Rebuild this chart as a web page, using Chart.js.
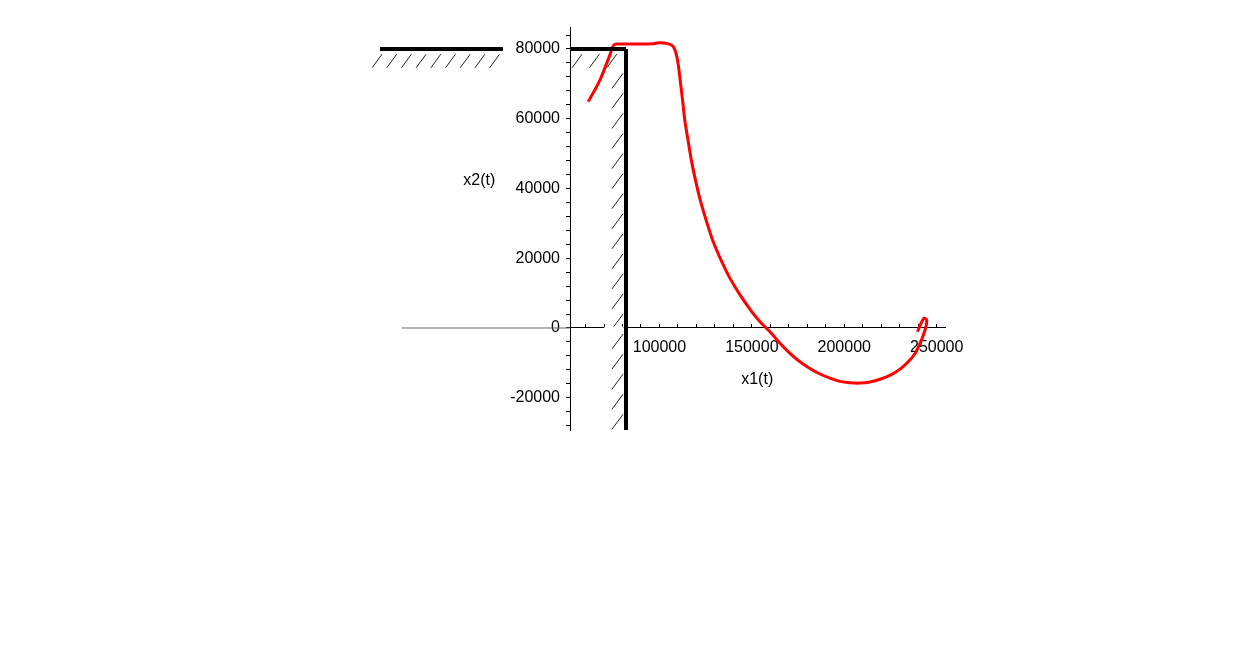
<!DOCTYPE html>
<html>
<head>
<meta charset="utf-8">
<script src="https://cdn.jsdelivr.net/npm/chart.js@4/dist/chart.umd.min.js"></script>
<style>
  html, body { margin: 0; padding: 0; background: #fff; }
  #wrap { width: 1246px; height: 661px; }
</style>
</head>
<body>
<div id="wrap"><canvas id="plot"></canvas></div>
<script>
// trajectoire x2(t) en fonction de x1(t)
const curveX = [61500, 67800, 73200, 75000, 76800, 86700, 96600, 99500, 103900, 107500, 109600, 111100,
  112600, 113800, 115600, 117400, 119700, 122300, 125500, 129100, 133700, 138100, 143600, 149900,
  154400, 159800, 165200, 170600, 176000, 181400, 186900, 192300, 197700, 203100, 208500, 213900,
  219300, 224700, 230200, 234600, 238300, 241000, 242800, 244200, 244600, 243200, 242000, 240700, 239600];
const curveY = [64900, 71100, 78300, 80900, 81400, 81400, 81500, 81800, 81600, 80700, 77300, 71600,
  64900, 59200, 53400, 47700, 41900, 36200, 30500, 24700, 19000, 14300, 9500, 4700,
  1800, -1100, -4400, -7300, -9700, -11600, -13200, -14400, -15300, -15700, -15800, -15500,
  -14700, -13600, -11800, -9700, -7300, -4400, -2000, 400, 2300, 2800, 1800, 400, -1100];

// murs (traits épais)
const wallLeftX = [-51200, 15300];
const wallLeftY = [80000, 80000];
const wallTopX = [51600, 81900];
const wallTopY = [80000, 80000];
const wallRightX = [81900, 81900];
const wallRightY = [-29250, 80000];

// trait gris à gauche de l'axe, et trou dans l'axe devant le mur
const groundX = [-39300, 51600];
const groundY = [0, 0];
const gapX = [70200, 80600];
const gapY = [0, 0];

// graduations
const xTickLabels = [100000, 150000, 200000, 250000];
const yTickLabels = [-20000, 0, 20000, 40000, 60000, 80000];

const X_MIN = 51600, X_MAX = 254500, Y_MIN = -29250, Y_MAX = 86300;

const pts = (xs, ys) => xs.map((x, i) => ({ x: x, y: ys[i] }));

// hachures : petits traits obliques
const HX = 5400, HY = 3900;
function hatchRow(x0, x1, step, yTop) {
  const out = [];
  for (let x = x0; x + HX <= x1 + 1; x += step) {
    out.push({ x: x, y: yTop - HY }, { x: x + HX, y: yTop }, { x: null, y: null });
  }
  return out;
}
function hatchColumn(xRight, yTop, yBottom, step) {
  const out = [];
  for (let y = yTop; y - 4300 >= yBottom; y -= step) {
    out.push({ x: xRight - 7000, y: y - 4300 }, { x: xRight - 1000, y: y }, { x: null, y: null });
  }
  return out;
}
const hatch = [].concat(
  hatchRow(-55500, 15300, 7950, 78500),
  hatchRow(52700, 81000, 9400, 78500),
  hatchColumn(81300, 73000, Y_MIN, 5750)
);

function line(data, color, width) {
  return { data: data, showLine: true, borderColor: color, borderWidth: width,
    pointRadius: 0, fill: false, clip: false, spanGaps: false };
}

// titres des axes, placés en coordonnées de données
const axisTitles = {
  id: 'axisTitles',
  afterDraw(chart) {
    const c = chart.ctx, sx = chart.scales.x, sy = chart.scales.y;
    c.save();
    c.font = '16px "Liberation Sans", Arial, sans-serif';
    c.fillStyle = '#000';
    c.textAlign = 'center';
    c.textBaseline = 'middle';
    c.fillText('x1(t)', sx.getPixelForValue(152900), sy.getPixelForValue(-14900));
    c.fillText('x2(t)', sx.getPixelForValue(2500), sy.getPixelForValue(42200));
    c.restore();
  }
};

const ctx = document.getElementById('plot').getContext('2d');
new Chart(ctx, {
  type: 'scatter',
  data: {
    datasets: [
      line(pts(groundX, groundY), '#666', 1),
      line(pts(gapX, gapY), '#fff', 3),
      line(hatch, '#222', 1),
      line(pts(wallLeftX, wallLeftY), '#000', 4),
      line(pts(wallTopX, wallTopY), '#000', 4),
      line(pts(wallRightX, wallRightY), '#000', 4),
      Object.assign(line(pts(curveX, curveY), '#ff0000', 3), { tension: 0.3 })
    ]
  },
  options: {
    responsive: true,
    maintainAspectRatio: false,
    animation: false,
    layout: { padding: { left: 500, right: 301, top: 27, bottom: 231 } },
    plugins: { legend: { display: false }, tooltip: { enabled: false } },
    scales: {
      x: {
        type: 'linear',
        position: { y: 0 },
        min: X_MIN,
        max: X_MAX,
        afterBuildTicks: s => {
          const t = [];
          for (let v = 60000; v <= 250000; v += 10000) t.push({ value: v });
          s.ticks = t;
        },
        ticks: {
          autoSkip: false, maxRotation: 0, padding: 14, color: '#000',
          font: { family: '"Liberation Sans", Arial, sans-serif', size: 16 },
          callback: v => xTickLabels.includes(v) ? String(v) : ''
        },
        grid: { drawOnChartArea: false, drawTicks: true, tickLength: -4, color: '#000' },
        border: { display: true, color: '#000', width: 1 }
      },
      y: {
        type: 'linear',
        position: 'left',
        min: Y_MIN,
        max: Y_MAX,
        afterFit: s => { s.width = 70; },
        afterBuildTicks: s => {
          const t = [];
          for (let v = -28000; v <= 84000; v += 4000) t.push({ value: v });
          s.ticks = t;
        },
        ticks: {
          autoSkip: false, padding: 6, color: '#000',
          font: { family: '"Liberation Sans", Arial, sans-serif', size: 16 },
          callback: v => yTickLabels.includes(v) ? String(v) : ''
        },
        grid: { drawOnChartArea: false, drawTicks: true, tickLength: 4, color: '#000' },
        border: { display: true, color: '#000', width: 1 }
      }
    }
  },
  plugins: [axisTitles]
});
</script>
</body>
</html>
